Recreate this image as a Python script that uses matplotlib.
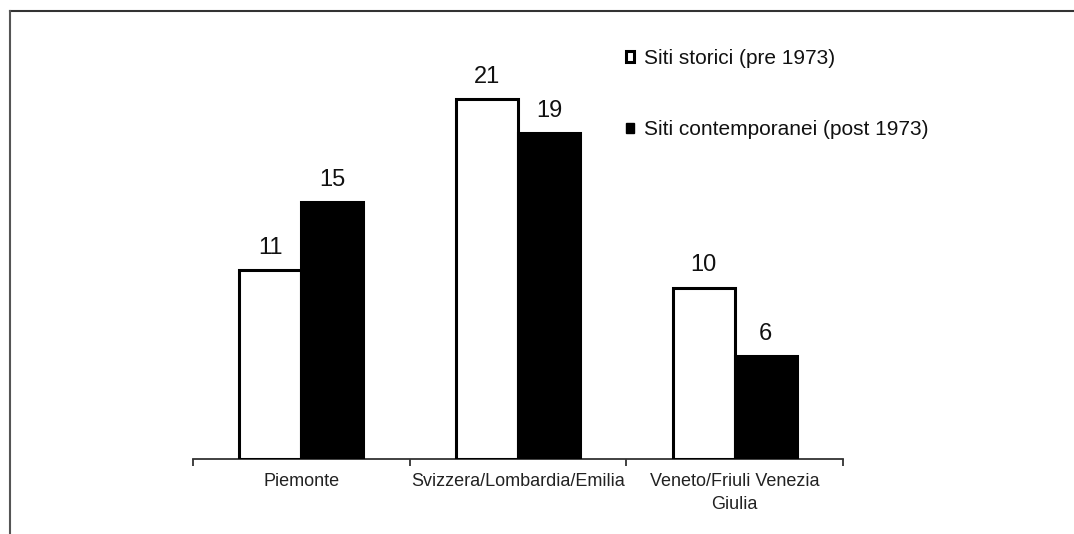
import matplotlib
matplotlib.use("Agg")
import matplotlib.pyplot as plt
from matplotlib.patches import Patch
from matplotlib.lines import Line2D
import numpy as np

categories = ["Piemonte", "Svizzera/Lombardia/Emilia", "Veneto/Friuli Venezia\nGiulia"]
series_names = ["Siti storici (pre 1973)", "Siti contemporanei (post 1973)"]
storici = [11, 21, 10]
contemporanei = [15, 19, 6]

plt.rcParams['font.family'] = ['Liberation Sans', 'DejaVu Sans']

fig = plt.figure(figsize=(10.74, 5.34), dpi=100)
ax = fig.add_axes([193/1074, 1 - 459/534, (843 - 193)/1074, (459 - 30.5)/534])

x = np.arange(len(categories))
w = 0.2857
b1 = ax.bar(x - w/2, storici, w, color='white', edgecolor='black', linewidth=2.2, zorder=3)
b2 = ax.bar(x + w/2, contemporanei, w, color='black', edgecolor='black', linewidth=2.2, zorder=3)

for bars, vals in ((b1, storici), (b2, contemporanei)):
    for r, v in zip(bars, vals):
        ax.annotate(str(v), (r.get_x() + r.get_width()/2, v), xytext=(0, 8),
                    textcoords='offset points', ha='center', va='bottom', fontsize=17,
                    color='#111111')

ax.set_xlim(-0.5, len(categories) - 0.5)
ax.set_ylim(0, 25)
for s in ('top', 'right', 'left'):
    ax.spines[s].set_visible(False)
ax.spines['bottom'].set_color('#333333')
ax.spines['bottom'].set_linewidth(1.3)
ax.set_yticks([])
ax.set_xticks(np.arange(len(categories) + 1) - 0.5)
ax.set_xticklabels([])
ax.set_xticks(x, minor=True)
ax.set_xticklabels(categories, minor=True, fontsize=13, linespacing=1.5, color='#222222')
ax.tick_params(axis='x', which='major', direction='out', length=5, width=1.3, color='#333333')
ax.tick_params(axis='x', which='minor', length=0, pad=10)

handles = [Patch(facecolor='white', edgecolor='black', linewidth=2.2),
           Patch(facecolor='black', edgecolor='black')]
fig.legend(handles, series_names, loc='upper left', bbox_to_anchor=(626/1074, 1 - 49/534),
           frameon=False, fontsize=15, handlelength=0.38, handleheight=0.38,
           handletextpad=0.5, labelspacing=2.5, borderpad=0, borderaxespad=0,
           labelcolor='#111111')

# figure border (top and left lines)
fig.add_artist(Line2D([10/1074, 1], [1 - 11/534, 1 - 11/534], transform=fig.transFigure,
                      color='#333333', linewidth=1.5))
fig.add_artist(Line2D([10/1074, 10/1074], [0, 1 - 11/534], transform=fig.transFigure,
                      color='#555555', linewidth=1.5))

fig.savefig("out.png", dpi=100, facecolor='white')
